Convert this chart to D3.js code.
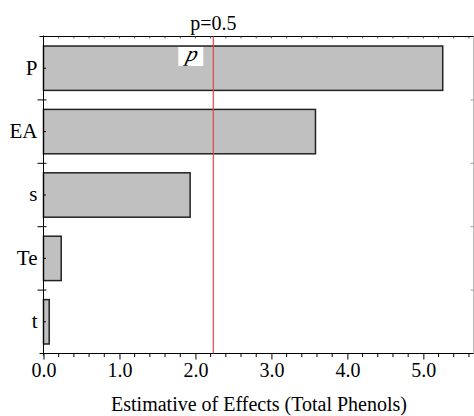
<!DOCTYPE html>
<html><head><meta charset="utf-8">
<script src="https://cdn.jsdelivr.net/npm/d3@7"></script>
</head><body style="margin:0">
<script>
const categories = ["P","EA","s","Te","t"];
const effects = [5.255, 3.58, 1.93, 0.233, 0.075];
const pValue = 2.235;
const pLabel = "p=0.5";
const xTicks = [0,1,2,3,4,5];
const xTitle = "Estimative of Effects (Total Phenols)";

const W=474,H=416;
const L=43.5,R=473.5,T=36.5,B=353.5;
const font="Liberation Serif";
const svg=d3.select("body").append("svg").attr("width",W).attr("height",H).style("display","block");
const x=d3.scaleLinear().domain([0,5.66]).range([L,R]);
const y=d3.scaleBand().domain(categories).range([T,B]).paddingInner(0.3).paddingOuter(0.15);

// bars
svg.selectAll("rect.bar").data(categories).join("rect").attr("class","bar")
 .attr("x",x(0)).attr("y",d=>y(d))
 .attr("width",(d,i)=>x(effects[i])-x(0)).attr("height",y.bandwidth())
 .attr("fill","#c0c0c0").attr("stroke","#222").attr("stroke-width",1.5);

// frame: right gray
svg.append("line").attr("x1",R).attr("x2",R).attr("y1",T).attr("y2",B).attr("stroke","#bbb").attr("stroke-width",1);

// bottom axis
const bottom=svg.append("g").attr("transform",`translate(0,${B})`)
 .call(d3.axisBottom(x).tickValues(xTicks).tickFormat(d3.format(".1f")).tickSize(6).tickSizeOuter(0));
bottom.attr("font-family",null).attr("font-size",null);
bottom.select(".domain").remove();
bottom.selectAll("text").style("font-family",font).style("font-size","20px").attr("fill","#000")
 .attr("y",23.5).attr("dy",0);
bottom.selectAll("line").attr("stroke","#000");
const minor=d3.range(0,5.66,0.2).filter(v=>Math.abs(v-Math.round(v))>1e-6);
svg.append("g").selectAll("line").data(minor).join("line")
 .attr("x1",d=>x(d)).attr("x2",d=>x(d)).attr("y1",B).attr("y2",B+3.5).attr("stroke","#000");
svg.append("line").attr("x1",L-4).attr("x2",R).attr("y1",B).attr("y2",B).attr("stroke","#000");

// top axis
svg.append("line").attr("x1",L-4).attr("x2",R).attr("y1",T).attr("y2",T).attr("stroke","#000");
svg.append("g").selectAll("line").data(d3.range(0,5.66,0.2)).join("line")
 .attr("x1",d=>x(d)).attr("x2",d=>x(d)).attr("y1",T).attr("y2",T+2).attr("stroke","#555");

// left axis
svg.append("line").attr("x1",L).attr("x2",L).attr("y1",T-1).attr("y2",B+2).attr("stroke","#000");
const bounds=categories.slice(1).map(c=>y(c)-y.step()*0.15);
svg.append("g").selectAll("line").data(bounds).join("line")
 .attr("x1",L-6).attr("x2",L+3).attr("y1",d=>d).attr("y2",d=>d).attr("stroke","#000");
svg.append("g").selectAll("line").data(bounds).join("line")
 .attr("x1",R-3).attr("x2",R).attr("y1",d=>d).attr("y2",d=>d).attr("stroke","#999");
svg.append("g").selectAll("line").data(categories).join("line")
 .attr("x1",L).attr("x2",L+2.5).attr("y1",d=>y(d)+y.bandwidth()/2).attr("y2",d=>y(d)+y.bandwidth()/2).attr("stroke","#000");
svg.append("g").selectAll("text").data(categories).join("text")
 .attr("x",L-6).attr("y",d=>y(d)+y.bandwidth()/2).attr("dy","0.3em")
 .attr("text-anchor","end").style("font-family",font).style("font-size","21px").text(d=>d);

// p line
svg.append("line").attr("x1",x(pValue)).attr("x2",x(pValue)).attr("y1",T).attr("y2",B)
 .attr("stroke","#e0464e").attr("stroke-width",1.2);
svg.append("text").attr("x",x(pValue)).attr("y",29.5).attr("text-anchor","middle")
 .style("font-family",font).style("font-size","20px").text(pLabel);
svg.append("rect").attr("x",x(pValue)-35).attr("y",47).attr("width",25).attr("height",19).attr("fill","#fff");
svg.append("g").attr("transform",`translate(${x(pValue)-22.5},61) skewX(-14)`)
 .append("text").attr("x",0).attr("y",0).attr("text-anchor","middle")
 .style("font-family",font).style("font-style","italic").style("font-size","22px").text("p");

// title
svg.append("text").attr("x",259).attr("y",410.5).attr("text-anchor","middle")
 .style("font-family",font).style("font-size","20px").text(xTitle);
</script>
</body></html>
